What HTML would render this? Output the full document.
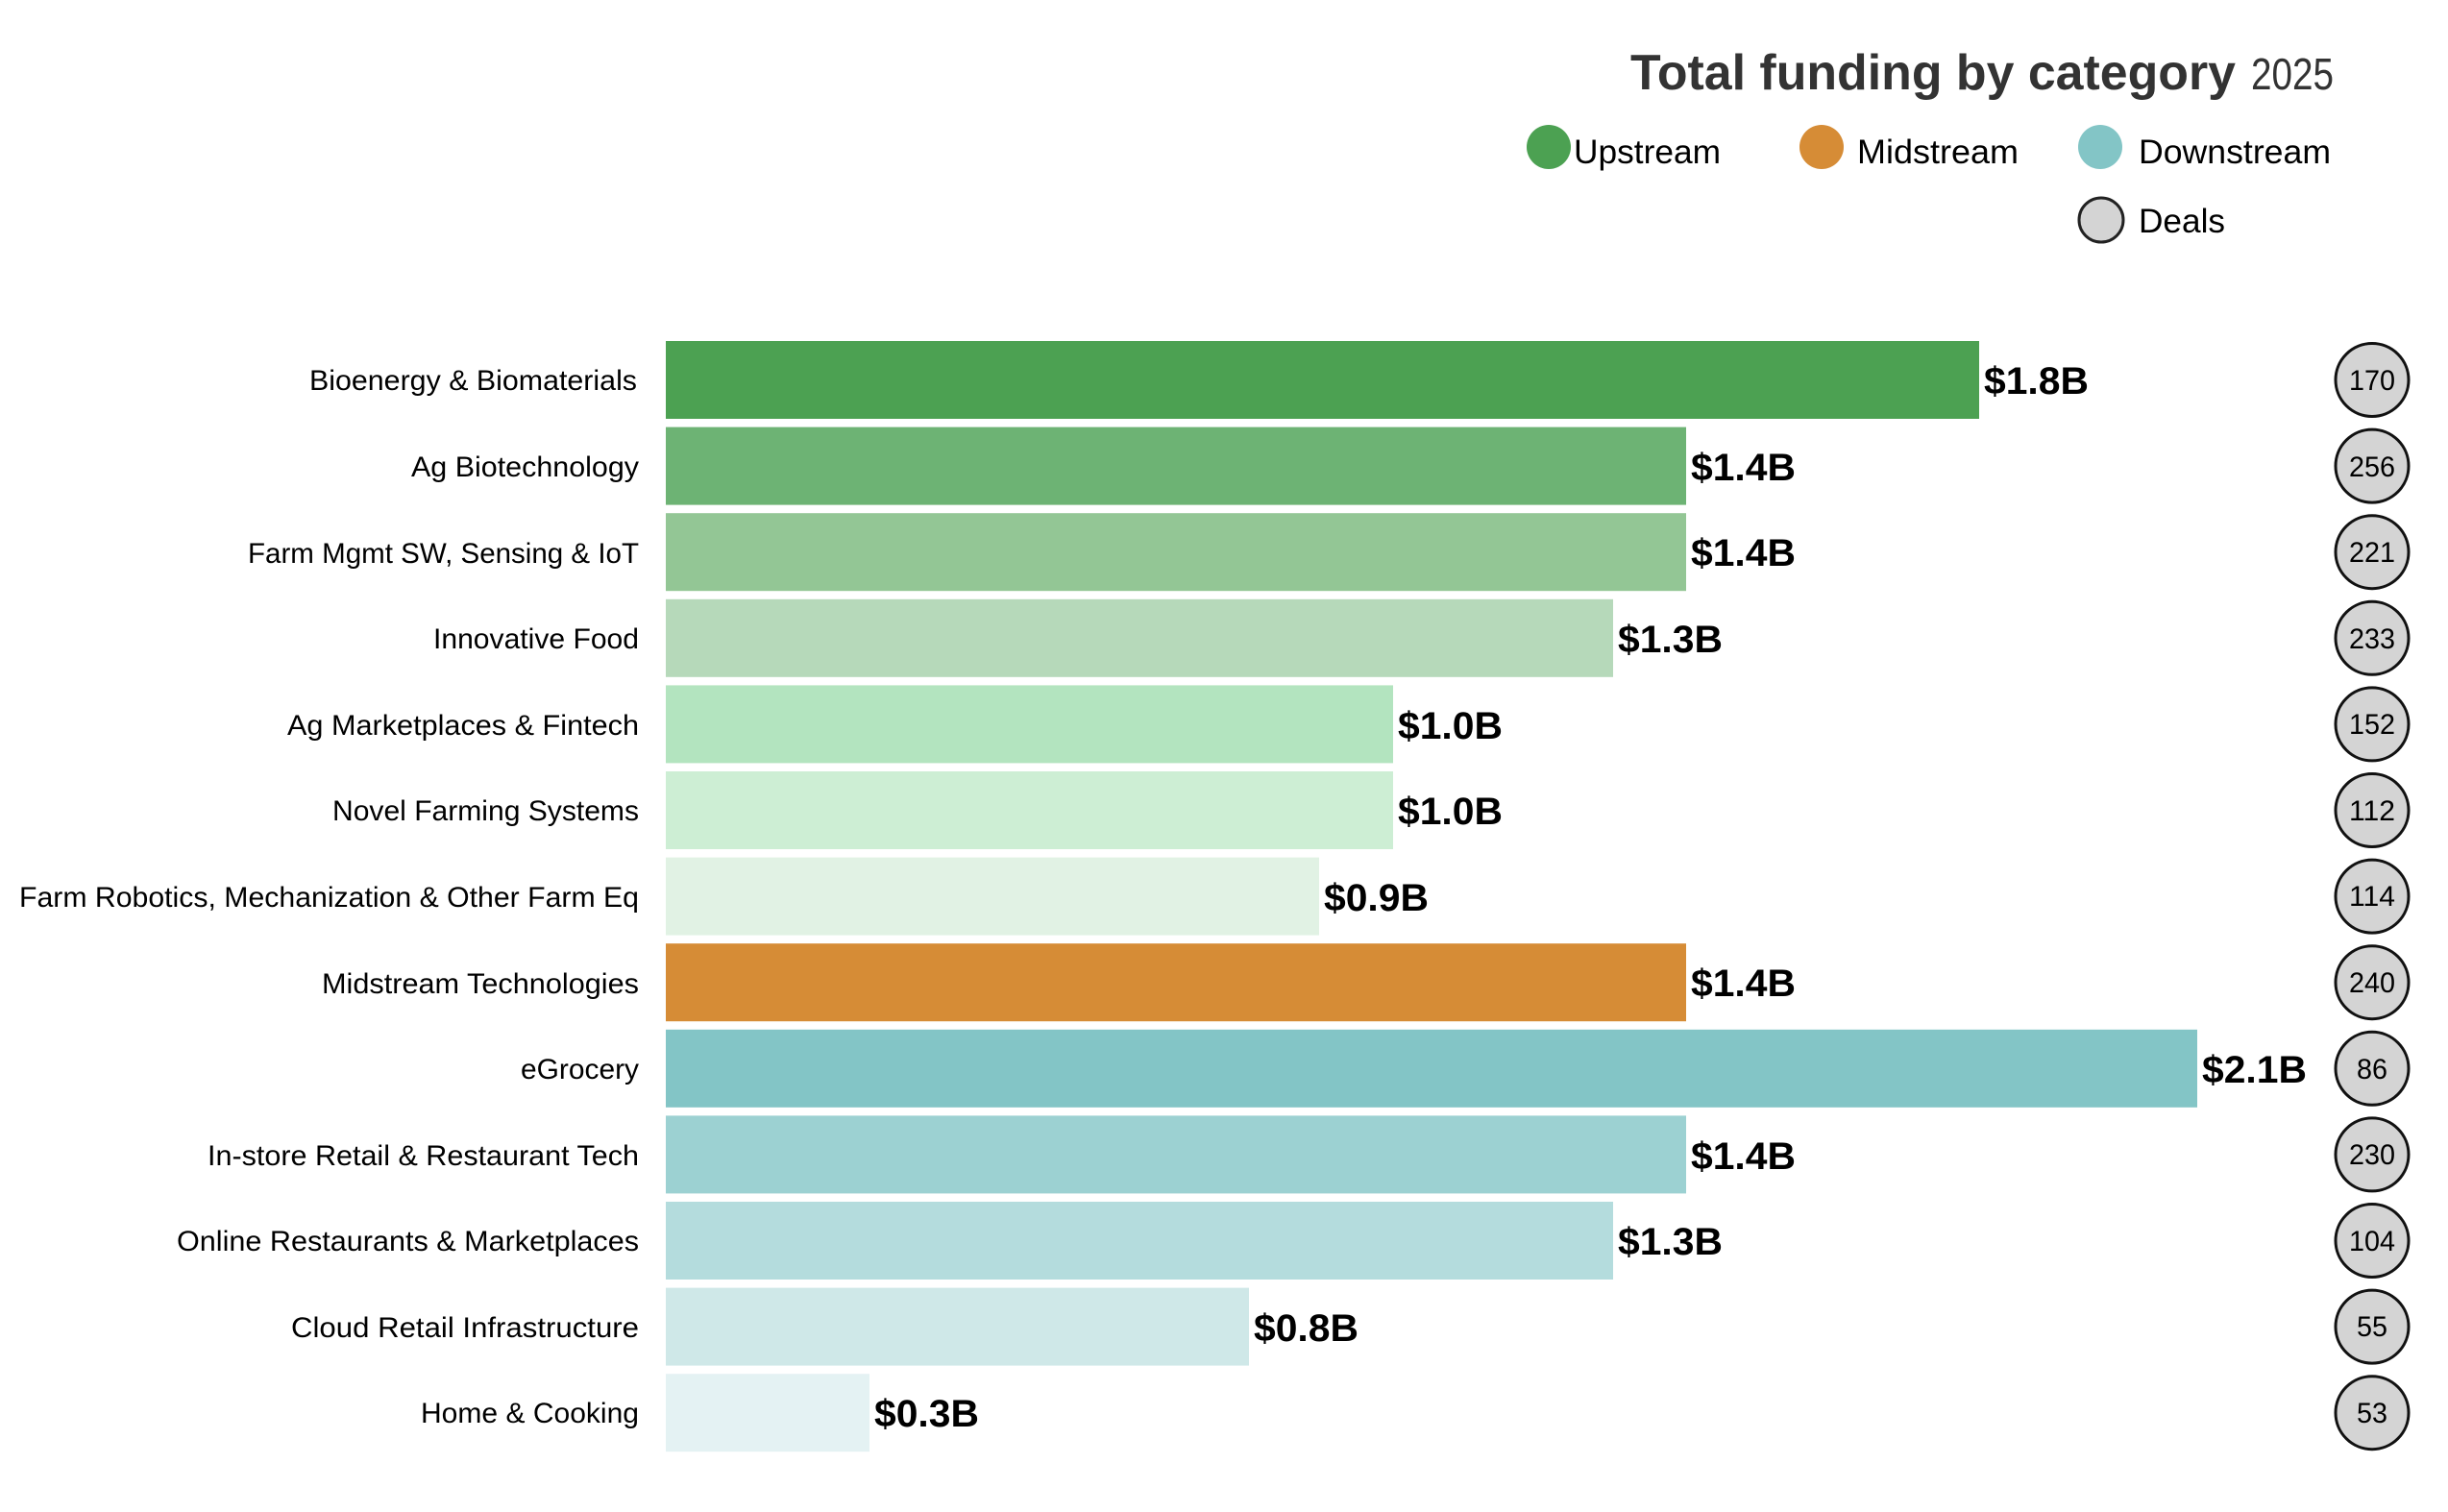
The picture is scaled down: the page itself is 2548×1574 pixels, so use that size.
<!DOCTYPE html>
<html><head><meta charset="utf-8"><style>html,body{margin:0;padding:0;background:#fff}svg{display:block}</style></head>
<body>
<svg width="2548" height="1574" viewBox="0 0 2548 1574" xmlns="http://www.w3.org/2000/svg" font-family="Liberation Sans, sans-serif">
<text x="1697" y="93" font-size="52" font-weight="bold" fill="#333" textLength="630" lengthAdjust="spacingAndGlyphs">Total funding by category</text>
<text x="2343" y="93" font-size="46" fill="#333" textLength="86" lengthAdjust="spacingAndGlyphs">2025</text>
<circle cx="1612" cy="153" r="23" fill="#4ca152"/>
<text x="1638" y="170" font-size="35" fill="#000" textLength="153" lengthAdjust="spacingAndGlyphs">Upstream</text>
<circle cx="1896" cy="153" r="23" fill="#d68c36"/>
<text x="1933" y="170" font-size="35" fill="#000" textLength="168" lengthAdjust="spacingAndGlyphs">Midstream</text>
<circle cx="2186" cy="153" r="23" fill="#83c5c6"/>
<text x="2226" y="170" font-size="35" fill="#000" textLength="200" lengthAdjust="spacingAndGlyphs">Downstream</text>
<circle cx="2187" cy="229" r="23" fill="#d4d4d4" stroke="#222" stroke-width="3"/>
<text x="2226" y="242" font-size="35" fill="#000" textLength="90" lengthAdjust="spacingAndGlyphs">Deals</text>
<g>
<rect x="693" y="355" width="1367" height="81" fill="#4ca152"/>
<rect x="693" y="444.6" width="1062" height="81" fill="#6db374"/>
<rect x="693" y="534.2" width="1062" height="81" fill="#93c695"/>
<rect x="693" y="623.8" width="986" height="81" fill="#b6d9ba"/>
<rect x="693" y="713.4" width="757" height="81" fill="#b3e4bf"/>
<rect x="693" y="803" width="757" height="81" fill="#cdeed4"/>
<rect x="693" y="892.6" width="680" height="81" fill="#e1f2e4"/>
<rect x="693" y="982.2" width="1062" height="81" fill="#d68c36"/>
<rect x="693" y="1071.8" width="1594" height="81" fill="#83c5c6"/>
<rect x="693" y="1161.4" width="1062" height="81" fill="#9cd1d2"/>
<rect x="693" y="1251" width="986" height="81" fill="#b4dcdd"/>
<rect x="693" y="1340.6" width="607" height="81" fill="#cfe8e8"/>
<rect x="693" y="1430.2" width="212" height="81" fill="#e4f2f3"/>
</g>
<g font-size="30" fill="#000">
<text x="322" y="406" textLength="341" lengthAdjust="spacingAndGlyphs">Bioenergy &amp; Biomaterials</text>
<text x="428" y="496" textLength="237" lengthAdjust="spacingAndGlyphs">Ag Biotechnology</text>
<text x="258" y="586" textLength="407" lengthAdjust="spacingAndGlyphs">Farm Mgmt SW, Sensing &amp; IoT</text>
<text x="451" y="675" textLength="214" lengthAdjust="spacingAndGlyphs">Innovative Food</text>
<text x="299" y="765" textLength="366" lengthAdjust="spacingAndGlyphs">Ag Marketplaces &amp; Fintech</text>
<text x="346" y="854" textLength="319" lengthAdjust="spacingAndGlyphs">Novel Farming Systems</text>
<text x="20" y="944" textLength="645" lengthAdjust="spacingAndGlyphs">Farm Robotics, Mechanization &amp; Other Farm Eq</text>
<text x="335" y="1034" textLength="330" lengthAdjust="spacingAndGlyphs">Midstream Technologies</text>
<text x="542" y="1123" textLength="123" lengthAdjust="spacingAndGlyphs">eGrocery</text>
<text x="216" y="1213" textLength="449" lengthAdjust="spacingAndGlyphs">In-store Retail &amp; Restaurant Tech</text>
<text x="184" y="1302" textLength="481" lengthAdjust="spacingAndGlyphs">Online Restaurants &amp; Marketplaces</text>
<text x="303" y="1392" textLength="362" lengthAdjust="spacingAndGlyphs">Cloud Retail Infrastructure</text>
<text x="438" y="1481" textLength="227" lengthAdjust="spacingAndGlyphs">Home &amp; Cooking</text>
</g>
<g font-size="40" font-weight="bold" fill="#000">
<text x="2065" y="410" textLength="109" lengthAdjust="spacingAndGlyphs">$1.8B</text>
<text x="1760" y="500" textLength="109" lengthAdjust="spacingAndGlyphs">$1.4B</text>
<text x="1760" y="589" textLength="109" lengthAdjust="spacingAndGlyphs">$1.4B</text>
<text x="1684" y="679" textLength="109" lengthAdjust="spacingAndGlyphs">$1.3B</text>
<text x="1455" y="769" textLength="109" lengthAdjust="spacingAndGlyphs">$1.0B</text>
<text x="1455" y="858" textLength="109" lengthAdjust="spacingAndGlyphs">$1.0B</text>
<text x="1378" y="948" textLength="109" lengthAdjust="spacingAndGlyphs">$0.9B</text>
<text x="1760" y="1037" textLength="109" lengthAdjust="spacingAndGlyphs">$1.4B</text>
<text x="2292" y="1127" textLength="109" lengthAdjust="spacingAndGlyphs">$2.1B</text>
<text x="1760" y="1217" textLength="109" lengthAdjust="spacingAndGlyphs">$1.4B</text>
<text x="1684" y="1306" textLength="109" lengthAdjust="spacingAndGlyphs">$1.3B</text>
<text x="1305" y="1396" textLength="109" lengthAdjust="spacingAndGlyphs">$0.8B</text>
<text x="910" y="1485" textLength="109" lengthAdjust="spacingAndGlyphs">$0.3B</text>
</g>
<g fill="#d4d4d4" stroke="#111" stroke-width="3">
<circle cx="2469" cy="395.5" r="38"/>
<circle cx="2469" cy="485.1" r="38"/>
<circle cx="2469" cy="574.7" r="38"/>
<circle cx="2469" cy="664.3" r="38"/>
<circle cx="2469" cy="753.9" r="38"/>
<circle cx="2469" cy="843.5" r="38"/>
<circle cx="2469" cy="933.1" r="38"/>
<circle cx="2469" cy="1022.7" r="38"/>
<circle cx="2469" cy="1112.3" r="38"/>
<circle cx="2469" cy="1201.9" r="38"/>
<circle cx="2469" cy="1291.5" r="38"/>
<circle cx="2469" cy="1381.1" r="38"/>
<circle cx="2469" cy="1470.7" r="38"/>
</g>
<g font-size="30" fill="#000" text-anchor="middle">
<text x="2469" y="406" textLength="48" lengthAdjust="spacingAndGlyphs">170</text>
<text x="2469" y="496" textLength="48" lengthAdjust="spacingAndGlyphs">256</text>
<text x="2469" y="585" textLength="48" lengthAdjust="spacingAndGlyphs">221</text>
<text x="2469" y="675" textLength="48" lengthAdjust="spacingAndGlyphs">233</text>
<text x="2469" y="764" textLength="48" lengthAdjust="spacingAndGlyphs">152</text>
<text x="2469" y="854" textLength="48" lengthAdjust="spacingAndGlyphs">112</text>
<text x="2469" y="943" textLength="48" lengthAdjust="spacingAndGlyphs">114</text>
<text x="2469" y="1033" textLength="48" lengthAdjust="spacingAndGlyphs">240</text>
<text x="2469" y="1123" textLength="32" lengthAdjust="spacingAndGlyphs">86</text>
<text x="2469" y="1212" textLength="48" lengthAdjust="spacingAndGlyphs">230</text>
<text x="2469" y="1302" textLength="48" lengthAdjust="spacingAndGlyphs">104</text>
<text x="2469" y="1391" textLength="32" lengthAdjust="spacingAndGlyphs">55</text>
<text x="2469" y="1481" textLength="32" lengthAdjust="spacingAndGlyphs">53</text>
</g>
</svg>
</body></html>
